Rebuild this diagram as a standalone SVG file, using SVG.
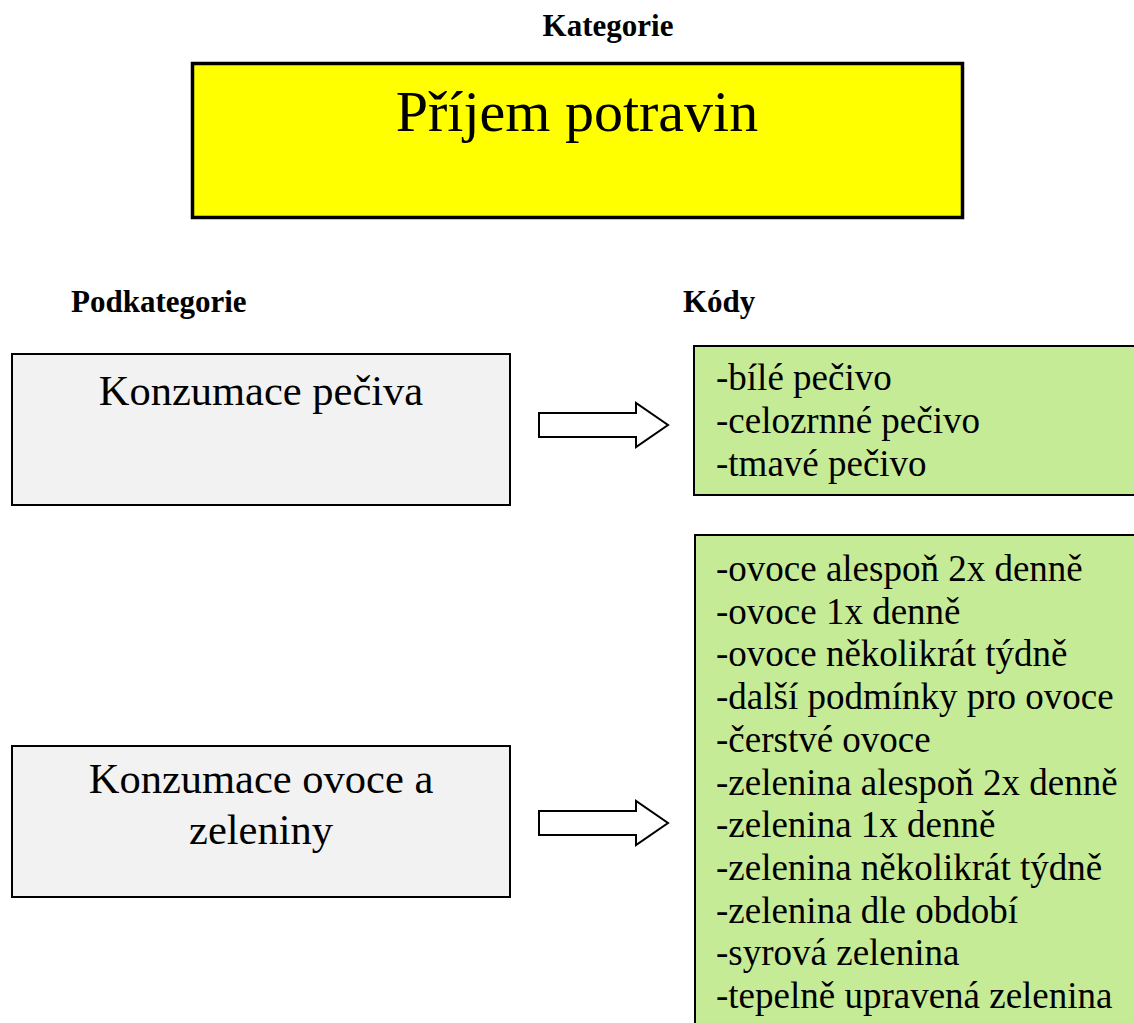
<svg xmlns="http://www.w3.org/2000/svg" width="1134" height="1023" viewBox="0 0 1134 1023">
<style>
text{font-family:"Liberation Serif","Times New Roman",serif;fill:#000}
.hdr{font-size:31px;font-weight:bold}
.sub{fill:#f2f2f2;stroke:#000;stroke-width:2}
.code{fill:#c6eb96;stroke:#000;stroke-width:2}
.subt{font-size:42.5px;text-anchor:middle}
.ct{font-size:37px}
.arr{fill:#fff;stroke:#000;stroke-width:2;stroke-linejoin:miter}
</style>
<rect width="1134" height="1023" fill="#fff"/>
<text class="hdr" x="608" y="36" text-anchor="middle">Kategorie</text>
<g id="kategorie">
<rect x="192.5" y="63.5" width="770" height="154" fill="#ffff00" stroke="#000" stroke-width="3.5"/>
<text x="577" y="131" font-size="58" text-anchor="middle">Příjem potravin</text>
</g>
<text class="hdr" x="71" y="312">Podkategorie</text>
<text class="hdr" x="683" y="312">Kódy</text>
<g id="sub1">
<rect class="sub" x="12" y="354" width="498" height="151"/>
<text class="subt" x="261" y="405">Konzumace pečiva</text>
</g>
<g id="codes1">
<rect class="code" x="694" y="346" width="445" height="149"/>
<text class="ct"><tspan x="716" y="390">-bílé pečivo</tspan><tspan x="716" y="433">-celozrnné pečivo</tspan><tspan x="716" y="476">-tmavé pečivo</tspan></text>
</g>
<g id="sub2">
<rect class="sub" x="12" y="746" width="498" height="151"/>
<text class="subt" x="261" y="793">Konzumace ovoce a</text>
<text class="subt" x="261" y="844">zeleniny</text>
</g>
<g id="codes2">
<rect class="code" x="695" y="535" width="445" height="500"/>
<text class="ct"><tspan x="716" y="581">-ovoce alespoň 2x denně</tspan><tspan x="716" y="623.5">-ovoce 1x denně</tspan><tspan x="716" y="666">-ovoce několikrát týdně</tspan><tspan x="716" y="709">-další podmínky pro ovoce</tspan><tspan x="716" y="752">-čerstvé ovoce</tspan><tspan x="716" y="794.5">-zelenina alespoň 2x denně</tspan><tspan x="716" y="837">-zelenina 1x denně</tspan><tspan x="716" y="880">-zelenina několikrát týdně</tspan><tspan x="716" y="922.5">-zelenina dle období</tspan><tspan x="716" y="965">-syrová zelenina</tspan><tspan x="716" y="1008">-tepelně upravená zelenina</tspan></text>
</g>
<g id="connectors">
<path class="arr" d="M539,413 H636 V403 L668,425 L636,447 V437 H539 Z"/>
<path class="arr" d="M539,811 H636 V801 L668,823 L636,845 V835 H539 Z"/>
</g>
</svg>
